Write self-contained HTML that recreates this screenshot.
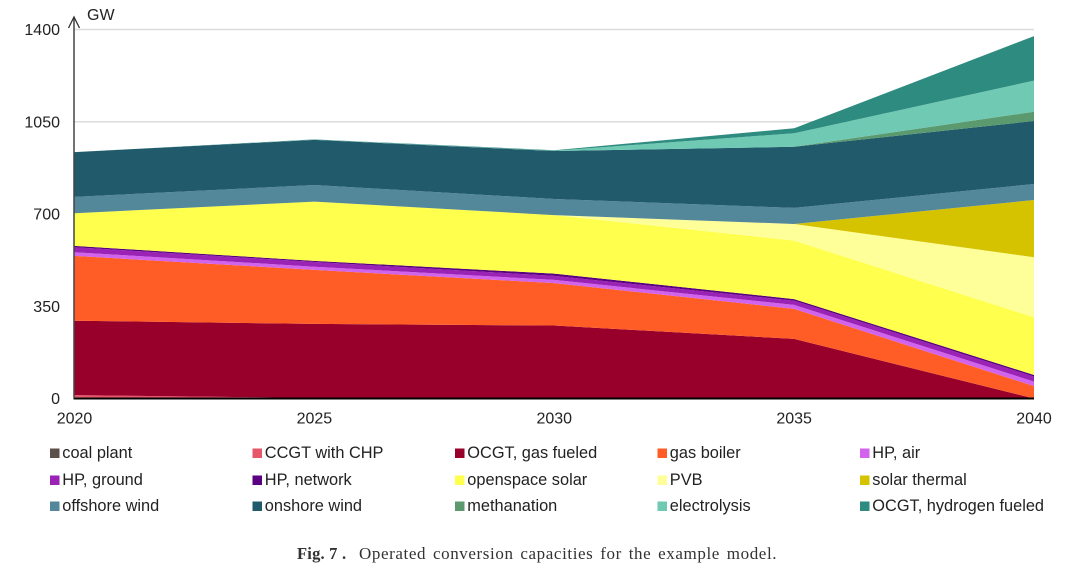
<!DOCTYPE html>
<html lang="en">
<head>
<meta charset="utf-8">
<title>Operated conversion capacities</title>
<style>
html,body{margin:0;padding:0;background:#fff;width:1080px;height:579px;overflow:hidden}
svg{display:block}
text{font-family:"Liberation Sans",sans-serif;fill:#222}
.cap{font-family:"Liberation Serif",serif;font-size:17px;fill:#333;letter-spacing:.6px;word-spacing:2px}
.cap .fig{font-size:16.5px;font-weight:bold;letter-spacing:.2px;word-spacing:0}
</style>
</head>
<body>
<svg id="chart" width="1080" height="579" viewBox="0 0 1080 579" xmlns="http://www.w3.org/2000/svg">
  <g id="grid"></g>
  <g id="areas"></g>
  <g id="axes"></g>
  <g id="legend"></g>
  <text class="cap" y="559"><tspan class="fig" x="297">Fig. 7 .</tspan><tspan x="359">Operated conversion capacities for the example model.</tspan></text>
</svg>
<script>
const years = [2020, 2025, 2030, 2035, 2040];
const yTicks = [0, 350, 700, 1050, 1400];
const seriesNames = ["coal plant", "CCGT with CHP", "OCGT, gas fueled", "gas boiler", "HP, air", "HP, ground", "HP, network", "openspace solar", "PVB", "solar thermal", "offshore wind", "onshore wind", "methanation", "electrolysis", "OCGT, hydrogen fueled"];
const seriesColors = ["#5b5149", "#e8566a", "#98002b", "#ff5c26", "#d163ec", "#9a22b4", "#5a0080", "#ffff4d", "#ffff99", "#d6c300", "#53879a", "#205a6b", "#5a9a6e", "#6fc9b3", "#2e8b80"];
const coalPlant = [4, 0, 0, 0, 0];
const ccgtChp = [9, 2, 0, 0, 0];
const ocgtGas = [282, 281, 277, 226, 0];
const gasBoiler = [246, 205, 161, 114, 47];
const hpAir = [14, 12, 12, 15, 17];
const hpGround = [19, 18, 15, 16, 19];
const hpNetwork = [5, 4, 9, 6, 6];
const openspaceSolar = [124, 225, 222, 222, 219];
const pvb = [0, 0, 0, 63, 228];
const solarThermal = [0, 0, 0, 0, 217];
const offshoreWind = [62, 63, 61, 61, 61];
const onshoreWind = [170, 171, 182, 232, 239];
const methanation = [0, 0, 0, 0, 35];
const electrolysis = [0, 1, 1, 51, 118];
const ocgtHydrogen = [0, 1, 2, 19, 169];
const seriesValues = [coalPlant, ccgtChp, ocgtGas, gasBoiler, hpAir, hpGround, hpNetwork, openspaceSolar, pvb, solarThermal, offshoreWind, onshoreWind, methanation, electrolysis, ocgtHydrogen];

const NS = "http://www.w3.org/2000/svg";
const xLeft = 74.5, xRight = 1034, yZero = 398.5, yTop = 29.5;
function xScale(year) {
  return xLeft + (year - years[0]) / (years[years.length - 1] - years[0]) * (xRight - xLeft);
}
function yScale(v) {
  return yZero - v / yTicks[yTicks.length - 1] * (yZero - yTop);
}
function make(tag, attrs, parent, text) {
  const el = document.createElementNS(NS, tag);
  for (const k in attrs) el.setAttribute(k, attrs[k]);
  if (text !== undefined) el.textContent = text;
  parent.appendChild(el);
  return el;
}
function slug(s) {
  return s.toLowerCase().replace(/[^a-z0-9]+/g, '-');
}

const gridG = document.getElementById('grid');
const axesG = document.getElementById('axes');
const areasG = document.getElementById('areas');
const legendG = document.getElementById('legend');

yTicks.forEach(function (t) {
  if (t !== 0) {
    const line = make('line', { x1: xLeft, x2: xRight, y1: yScale(t), y2: yScale(t), stroke: '#dcdcdc', 'stroke-width': 1.6 }, gridG);
    
    
  }
  const label = make('text', { x: 60, y: yScale(t) + 5.5, 'text-anchor': 'end', 'font-size': 16 }, axesG, String(t));
  
  
});

const cumulative = years.map(function () { return 0; });
seriesValues.forEach(function (vals, i) {
  const lower = cumulative.slice();
  vals.forEach(function (v, j) { cumulative[j] += v; });
  const pts = [];
  years.forEach(function (y, j) { pts.push(xScale(y).toFixed(1) + ',' + yScale(cumulative[j]).toFixed(1)); });
  for (let j = years.length - 1; j >= 0; j--) {
    pts.push(xScale(years[j]).toFixed(1) + ',' + yScale(lower[j]).toFixed(1));
  }
  const area = make('polygon', { points: pts.join(' '), fill: seriesColors[i] }, areasG);
  
  
});

years.forEach(function (y) {
  const label = make('text', { x: xScale(y), y: 423.3, 'text-anchor': 'middle', 'font-size': 16 }, axesG, String(y));
  
  
});

const xAxis = make('line', { x1: xLeft - 1, x2: xRight, y1: yZero, y2: yZero, stroke: '#000', 'stroke-width': 2 }, axesG);


const yAxis = make('line', { x1: 74, x2: 74, y1: yZero, y2: 17, stroke: '#444', 'stroke-width': 1.5 }, axesG);


const arrow = make('polyline', { points: '68.5,28 74,17 79.5,28', fill: 'none', stroke: '#333', 'stroke-width': 1.3 }, axesG);


const unit = make('text', { x: 87, y: 20, 'font-size': 16 }, axesG, 'GW');



const legendCols = [50, 252.5, 455, 657.5, 860];
const legendRows = [458, 485, 511];
seriesNames.forEach(function (name, i) {
  const lx = legendCols[i % 5];
  const ly = legendRows[Math.floor(i / 5)];
  const g = make('g', {}, legendG);
  
  
  const swatch = make('rect', { x: lx, y: ly - 9.5, width: 9.5, height: 9.5, fill: seriesColors[i] }, g);
  
  
  const label = make('text', { x: lx + 12.3, y: ly, 'font-size': 16.35 }, g, name);
  
  
});
</script>
</body>
</html>
